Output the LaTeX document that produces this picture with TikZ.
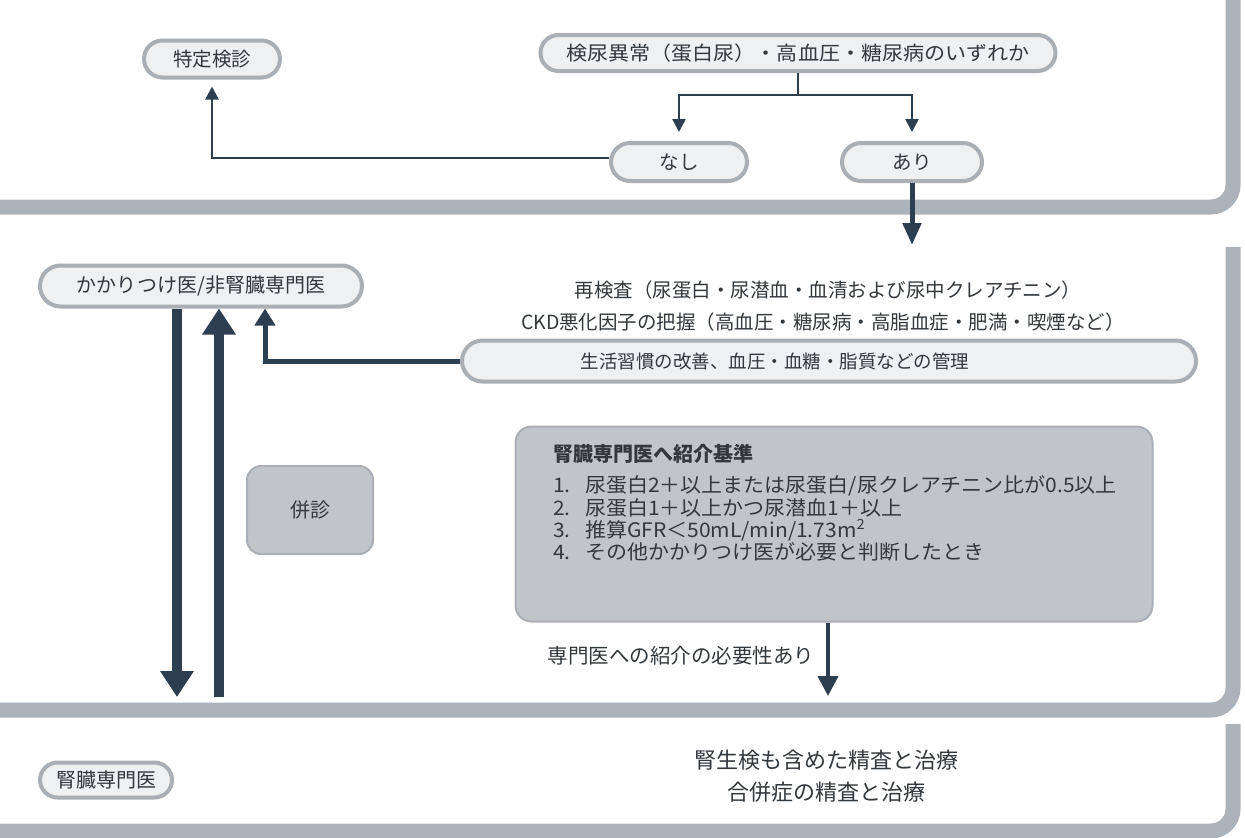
\documentclass[tikz,border=0pt]{standalone}
\usepackage{fontspec}
\setmainfont{Noto Sans CJK JP}
\usetikzlibrary{arrows.meta,shapes.misc}
\definecolor{arrowc}{HTML}{2C3E50}
\definecolor{txtc}{HTML}{33383D}
\definecolor{bandc}{HTML}{ABB2B9}
\definecolor{pillb}{HTML}{A9AFB5}
\definecolor{pillf}{HTML}{EEF0F1}
\definecolor{boxf}{HTML}{C0C5CA}
\tikzset{
  pill/.style={rounded rectangle, draw=pillb, line width=4pt, fill=pillf, text=txtc,
    font=\fontsize{19.5}{23}\selectfont, inner sep=0pt},
  plain/.style={text=txtc, font=\fontsize{19.5}{23}\selectfont, inner sep=0pt},
  graybox/.style={draw=pillb, line width=2pt, fill=boxf, rounded corners=14pt, text=txtc, inner sep=0pt},
  band/.style={draw=bandc, line width=15pt, rounded corners=22pt},
  stem/.style={draw=arrowc, line width=2.5pt},
  thinarrow/.style={draw=arrowc, line width=2.5pt, -{Triangle[width=13pt,length=13pt]}},
  medarrow/.style={draw=arrowc, line width=5pt, -{Triangle[width=18pt,length=22pt]}},
  linkarrow/.style={draw=arrowc, line width=5pt, -{Triangle[width=20pt,length=17pt]}},
  bigarrow/.style={draw=arrowc, line width=10pt, -{Triangle[width=32pt,length=26pt]}},
  critarrow/.style={draw=arrowc, line width=4pt, -{Triangle[width=20pt,length=20pt]}},
  item/.style={plain, anchor=west, font=\fontsize{20}{24}\selectfont\addfontfeature{FakeStretch=1.05}}
}
\begin{document}
\begin{tikzpicture}[x=1pt,y=-1pt]
\useasboundingbox (0,0) rectangle (1245,838);
\fill[white] (0,0) rectangle (1245,838);

% section bands
\draw[band] (0,207) -- (1233,207) -- (1233,-20);
\draw[band] (0,710) -- (1233,710) -- (1233,247);
\draw[band] (0,831) -- (1233,831) -- (1233,724);

% ---- section 1
\node[pill, minimum width=136pt, minimum height=37pt] (tokutei) at (212,59) {特定検診};
\node[pill, minimum width=515pt, minimum height=36pt, font=\fontsize{19.5}{23}\selectfont\addfontfeature{FakeStretch=1.08}] (q) at (798,53) {検尿異常（蛋白尿）・高血圧・糖尿病のいずれか};
\node[pill, minimum width=136pt, minimum height=38pt] (nashi) at (679,162) {なし};
\node[pill, minimum width=140pt, minimum height=38pt] (ari) at (912,162) {あり};

\coordinate (split) at (798,95);
\coordinate (ariEnd) at (912,245);
\draw[stem] (q.south) -- (split);
\draw[thinarrow, shorten >=9pt] (split) -| (nashi.north);
\draw[thinarrow, shorten >=9pt] (split) -| (ari.north);
\draw[thinarrow, shorten >=7pt] ([yshift=4pt]nashi.west) -| (tokutei.south);
\draw[medarrow] (ari.south) -- (ariEnd);

% ---- section 2
\node[pill, minimum width=322pt, minimum height=41pt, font=\fontsize{20}{24}\selectfont] (kakari) at (201,286) {かかりつけ医/非腎臓専門医};
\node[plain] (recheck) at (828,290) {再検査（尿蛋白・尿潜血・血清および尿中クレアチニン）};
\node[plain] (ckd) at (823,322) {CKD悪化因子の把握（高血圧・糖尿病・高脂血症・肥満・喫煙など）};
\node[pill, minimum width=734pt, minimum height=41pt] (seikatsu) at (829,361) {};
\node[plain, font=\fontsize{18.5}{22}\selectfont] (seikatsuText) at (775,361) {生活習慣の改善、血圧・血糖・脂質などの管理};

\node[graybox, minimum width=126pt, minimum height=88pt, font=\fontsize{20}{24}\selectfont] (heishin) at (310,510) {併診};

\node[graybox, minimum width=637pt, minimum height=195pt, rounded corners=16pt] (crit) at (834,524) {};
\node[item, font=\bfseries\fontsize{20}{24}\selectfont] (critTitle) at (553,454) {腎臓専門医へ紹介基準};
\node[item] (c1) at (553,486) {\makebox[32pt][l]{1.}尿蛋白2＋以上または尿蛋白/尿クレアチニン比が0.5以上};
\node[item] (c2) at (553,508) {\makebox[32pt][l]{2.}尿蛋白1＋以上かつ尿潜血1＋以上};
\node[item] (c3) at (553,530) {\makebox[32pt][l]{3.}推算GFR＜50mL/min/1.73m\textsuperscript{2}};
\node[item] (c4) at (553,552) {\makebox[32pt][l]{4.}その他かかりつけ医が必要と判断したとき};

\coordinate (critEnd) at (828,696);
\draw[critarrow] (crit.south -| critEnd) -- (critEnd);
\node[plain, font=\fontsize{20.5}{24}\selectfont] (need) at (681,656) {専門医への紹介の必要性あり};

\coordinate (dn) at (177,697);
\coordinate (up) at (219,697);
\coordinate (lk) at (265,697);
\draw[bigarrow] (kakari.south -| dn) -- (dn);
\draw[bigarrow] (up) -- (kakari.south -| up);
\draw[linkarrow] (seikatsu.west) -| (kakari.south -| lk);

% ---- section 3
\node[pill, minimum width=132pt, minimum height=35pt, font=\fontsize{20}{24}\selectfont] (jinsen) at (106,780) {腎臓専門医};
\node[plain, font=\fontsize{22}{26}\selectfont] (t1) at (826,760) {腎生検も含めた精査と治療};
\node[plain, font=\fontsize{22}{26}\selectfont] (t2) at (826,792) {合併症の精査と治療};
\end{tikzpicture}
\end{document}
